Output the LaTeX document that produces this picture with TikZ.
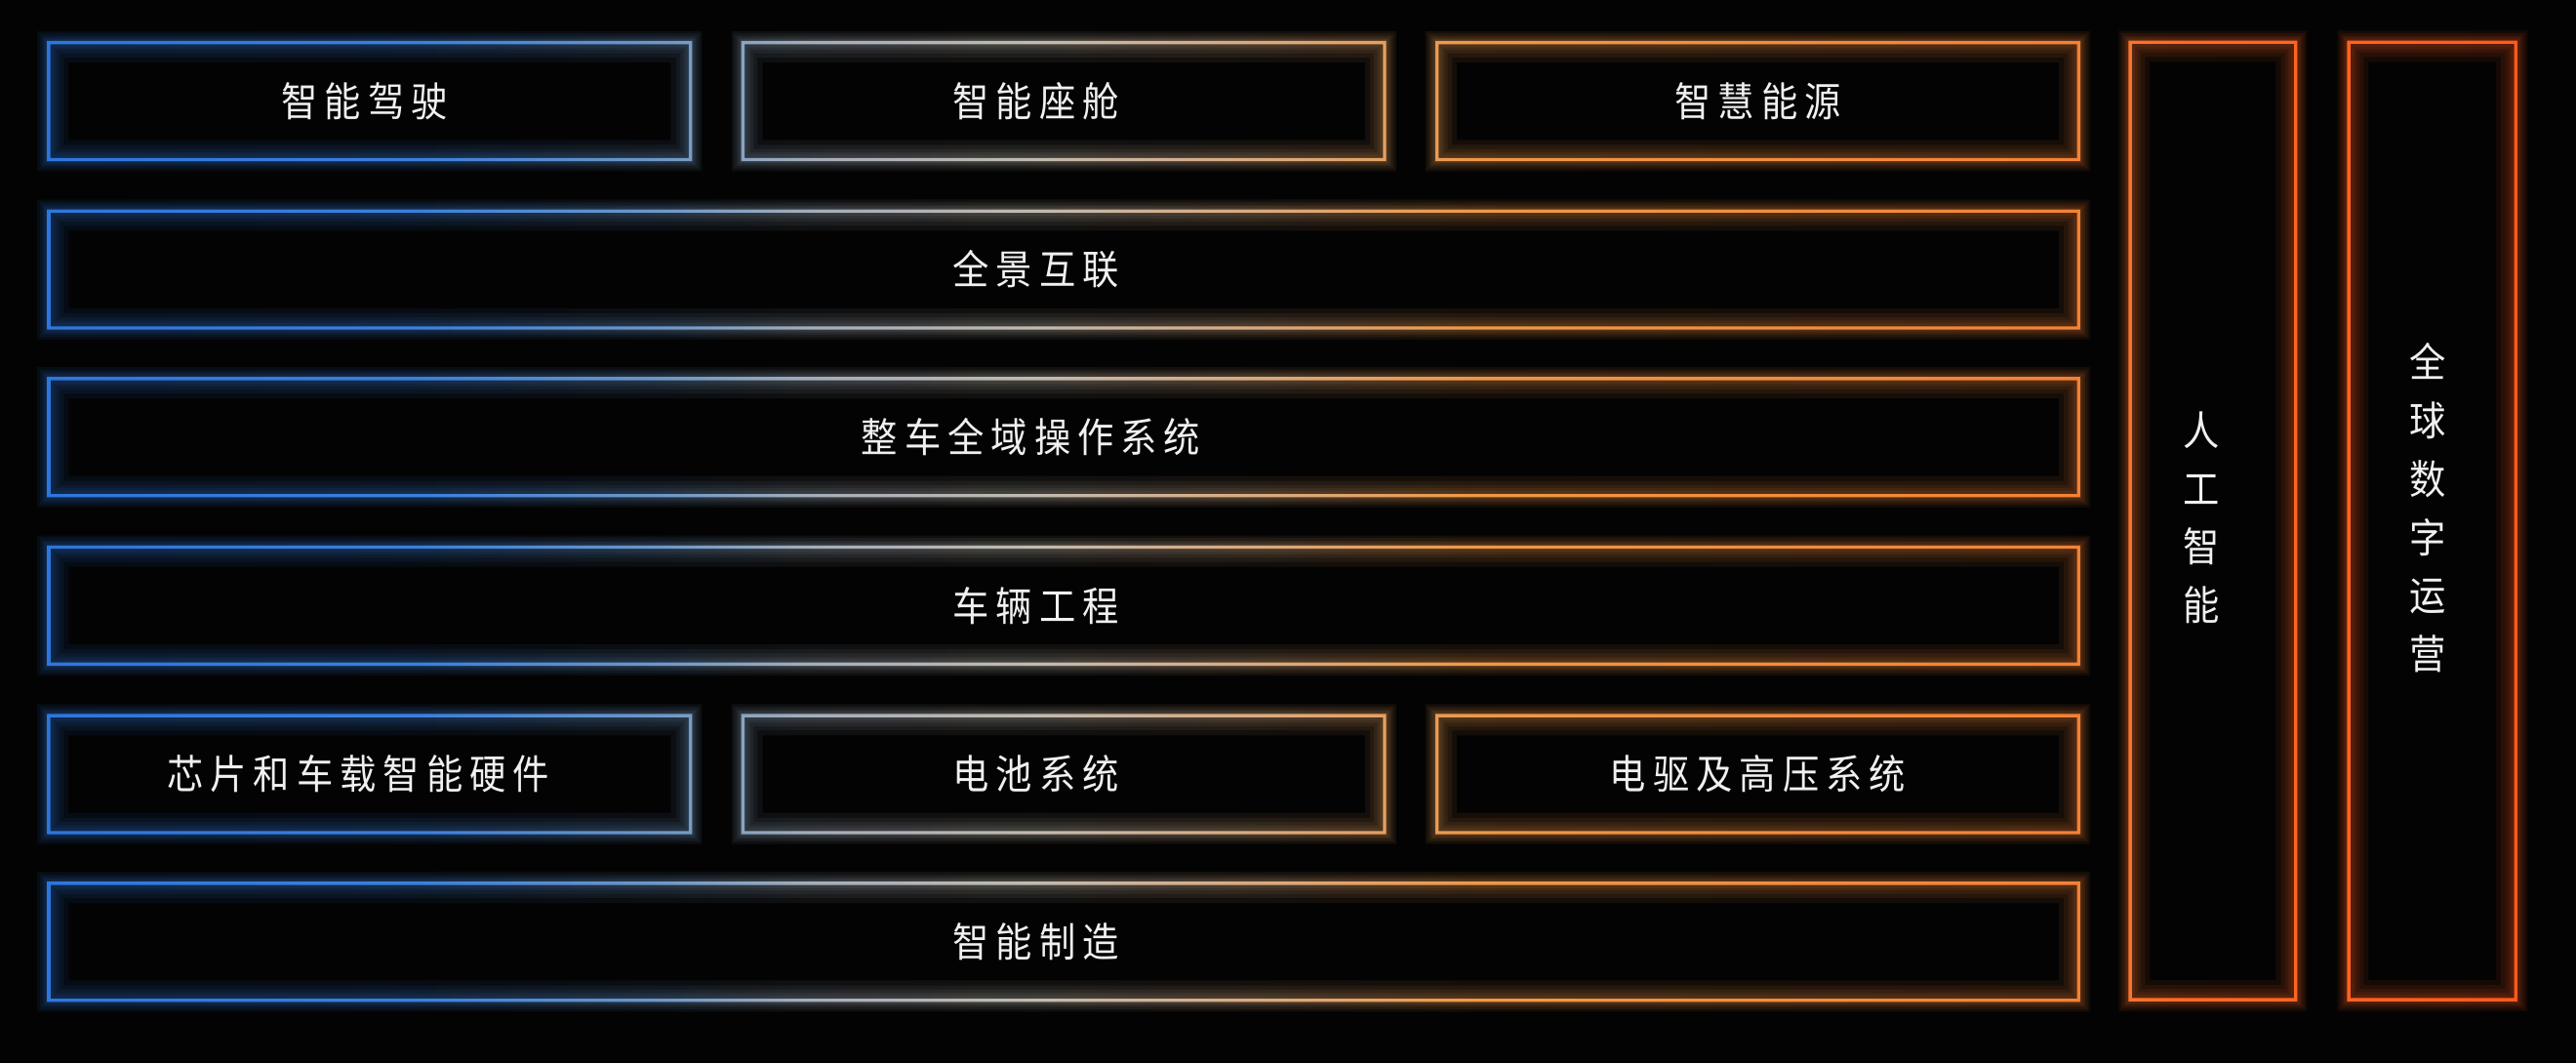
\documentclass[tikz,border=0pt]{standalone}
\usepackage{fontspec}
\newfontfamily\cjkfont[LetterSpace=17,FakeStretch=0.9]{Noto Sans CJK SC}
\usetikzlibrary{calc}

\definecolor{bg}{HTML}{030303}
\definecolor{txt}{HTML}{F0F0F0}
\definecolor{rimA}{HTML}{2F76DC}
\definecolor{rimB}{HTML}{3A80DC}
\definecolor{rimC}{HTML}{6E98C8}
\definecolor{rimD}{HTML}{A4AEBA}
\definecolor{rimE}{HTML}{C2BAB0}
\definecolor{rimF}{HTML}{DCA87A}
\definecolor{rimG}{HTML}{EE9848}
\definecolor{rimH}{HTML}{F28236}
\definecolor{rimI}{HTML}{FF6A26}
\definecolor{rimJ}{HTML}{FF5A1E}
% the middle half (25bp..75bp) covers the path
\pgfdeclarehorizontalshading{rim}{100bp}{color(0bp)=(rimA); color(25bp)=(rimA);
  color(32.5bp)=(rimB); color(37.5bp)=(rimC); color(40.5bp)=(rimD); color(45bp)=(rimE);
  color(50bp)=(rimF); color(54bp)=(rimG); color(66bp)=(rimH); color(68bp)=(rimI);
  color(75bp)=(rimJ); color(100bp)=(rimJ)}

\tikzset{
  panel/.style={inner sep=0pt, minimum height=1.41cm},
  wide/.style={panel, minimum width=24.7cm},
  cell/.style={panel, minimum width=7.8cm},
  pillar/.style={inner sep=0pt, minimum width=2cm, minimum height=11.64cm},
  caption/.style={inner sep=0pt, text=txt, font=\cjkfont\fontsize{14}{20.2}\selectfont, align=center}
}

% rings round every panel, #1 = outside, #2 = inside
\newcommand\rims[2]{%
  foreach \n in {drive,cabin,energy,connect,os,vehicle,chip,battery,edrive,manuf,ai,global}
  {([shift={(-#1,-#1)}]\n.south west) rectangle ([shift={(#1,#1)}]\n.north east)
   ([shift={(#2,#2)}]\n.south west) rectangle ([shift={(-#2,-#2)}]\n.north east)}}

\begin{document}
\begin{tikzpicture}[x=0.02cm,y=0.02cm]
  \fill[bg] (0,0) rectangle (1568,647);
  \useasboundingbox (0,0) rectangle (1568,647);

  % panels
  \node[cell] (drive) at (225,585.5) {};
  \node[cell] (cabin) at (647.5,585.5) {};
  \node[cell] (energy) at (1070,585.5) {};
  \node[wide] (connect) at (647.5,483) {};
  \node[wide] (os) at (647.5,381) {};
  \node[wide] (vehicle) at (647.5,278.5) {};
  \node[cell] (chip) at (225,176) {};
  \node[cell] (battery) at (647.5,176) {};
  \node[cell] (edrive) at (1070,176) {};
  \node[wide] (manuf) at (647.5,74) {};
  \node[pillar] (ai) at (1347,330) {};
  \node[pillar,minimum width=2.02cm] (global) at (1480.5,330) {};

  % glow and rims
  \foreach \d/\e in {7/12,5.5/9,4/6.5,3/4.5,2/3}
    \shade[shading=rim,even odd rule,opacity=.08] \rims{\d}{\e};
  \shade[shading=rim,even odd rule] \rims{1}{1};

  % texts
  \node[caption] (drive-t) at ([xshift=-0.06cm]drive.center) {智能驾驶};
  \node[caption] (cabin-t) at ([xshift=-0.34cm]cabin.center) {智能座舱};
  \node[caption] (energy-t) at (energy.center) {智慧能源};
  \node[caption] (connect-t) at ([xshift=-0.34cm]connect.center) {全景互联};
  \node[caption] (os-t) at ([xshift=-0.4cm]os.center) {整车全域操作系统};
  \node[caption] (vehicle-t) at ([xshift=-0.34cm]vehicle.center) {车辆工程};
  \node[caption] (chip-t) at ([xshift=-0.14cm]chip.center) {芯片和车载智能硬件};
  \node[caption] (battery-t) at ([xshift=-0.34cm]battery.center) {电池系统};
  \node[caption] (edrive-t) at (edrive.center) {电驱及高压系统};
  \node[caption] (manuf-t) at ([xshift=-0.34cm]manuf.center) {智能制造};
  \node[caption] (ai-t) at ([xshift=-0.14cm,yshift=0.04cm]ai.center) {人\\工\\智\\能};
  \node[caption] (global-t) at ([xshift=-0.05cm,yshift=0.16cm]global.center) {全\\球\\数\\字\\运\\营};
\end{tikzpicture}
\end{document}
